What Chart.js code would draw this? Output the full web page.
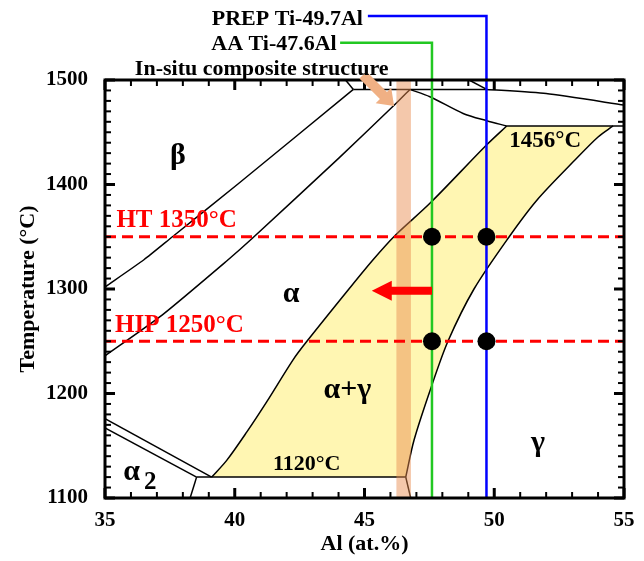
<!DOCTYPE html>
<html>
<head>
<meta charset="utf-8">
<script src="https://cdn.jsdelivr.net/npm/chart.js@4/dist/chart.umd.min.js"></script>
<style>
  html, body { margin: 0; padding: 0; background: #fff; }
  #wrap { width: 644px; height: 561px; position: relative; }
</style>
</head>
<body>
<div id="wrap"><canvas id="c"></canvas></div>
<script>
// Ti-Al phase diagram section: Al 35-55 at.%, 1100-1500 °C
const xTicks = [35, 40, 45, 50, 55];
const yTicks = [1100, 1200, 1300, 1400, 1500];
const xMinorStep = 1;
const yMinorStep = 10;

// alloy compositions (at.% Al) and treatment temperatures (°C)
const aaAl = 47.6;
const prepAl = 49.7;
const htTemp = 1350;
const hipTemp = 1250;

// phase boundaries, [Al at.%, T °C]
const betaBoundary      = [[35, 1302], [36.5, 1328], [37.6, 1350], [40.1, 1400], [44.57, 1491]];
const alphaBetaBoundary = [[35, 1236], [37.2, 1275], [39.7, 1327], [40.7, 1349], [44.0, 1425], [46.15, 1476], [46.75, 1491]];
const peritecticLine    = [[44.57, 1491], [49.71, 1491]];
const liquidusLine      = [[49.71, 1491], [52.0, 1487], [55, 1476]];
const topStubLeft       = [[44.27, 1500], [44.57, 1491]];
const topStubRight      = [[49.03, 1500], [49.71, 1491]];
const alphaSolvus       = [[46.75, 1491], [47.52, 1484], [48.8, 1468], [49.71, 1461], [50.48, 1456]];
const line1456          = [[50.48, 1456], [55, 1456]];
const a2Upper           = [[35, 1176], [39.11, 1120]];
const a2Lower           = [[35, 1167], [38.53, 1120]];
const a2Foot            = [[38.53, 1120], [38.28, 1100]];
const line1120          = [[38.53, 1120], [46.59, 1120]];
const gammaFoot         = [[46.59, 1120], [46.78, 1100]];

// α+γ two-phase field
const agLeft  = [[39.11, 1120], [39.69, 1136], [40.46, 1163], [41.23, 1192], [42.24, 1232], [42.75, 1249],
                 [44.4, 1300], [45.33, 1328], [46.17, 1351], [47.52, 1382], [49.71, 1438], [50.48, 1456]];
const agRight = [[54.58, 1456], [54.0, 1445.5], [53.11, 1423.4], [51.65, 1385.2], [50.57, 1349.8],
                 [49.22, 1300], [48.22, 1250.2], [47.56, 1205.3], [46.91, 1155.5], [46.59, 1120]];

// in-situ composite composition band
const bandAl = [46.23, 46.79];

// leader lines to the alloy labels
const aaLeaderT = 1535.7, aaLeaderEnd = 44.06;
const prepLeaderT = 1561.2, prepLeaderEnd = 45.13;

const pts = arr => arr.map(([x, y]) => ({x, y}));

const SERIF = '"Liberation Serif", "Times New Roman", serif';
const BLACK = '#000';
const RED = '#ff0000';
const GREEN = '#22c822';
const BLUE = '#0000ff';
const PEACH = '#f0b084';

function phaseLine(data, tension) {
  return { data: pts(data), showLine: true, borderColor: BLACK, borderWidth: 1.5,
           pointRadius: 0, tension: tension || 0, fill: false, order: 90 };
}

const datasets = [
  // α+γ field (fill only; its edges are drawn as separate curves)
  { data: pts(agLeft.concat(agRight)), showLine: true, fill: 'shape',
    backgroundColor: 'rgb(255,246,178)', borderColor: 'rgba(0,0,0,0)', borderWidth: 0,
    pointRadius: 0, tension: 0, order: 100 },
  phaseLine(agLeft, 0.3),
  phaseLine(agRight, 0.3),
  phaseLine(betaBoundary, 0.2),
  phaseLine(alphaBetaBoundary, 0.2),
  phaseLine(peritecticLine),
  phaseLine(liquidusLine, 0.2),
  phaseLine(topStubLeft),
  phaseLine(topStubRight),
  phaseLine(alphaSolvus, 0.3),
  phaseLine(line1456),
  phaseLine(a2Upper),
  phaseLine(a2Lower),
  phaseLine(a2Foot),
  phaseLine(line1120),
  phaseLine(gammaFoot),
  // composite band
  { data: pts([[bandAl[0], 1100], [bandAl[1], 1100], [bandAl[1], 1500], [bandAl[0], 1500]]),
    showLine: true, fill: 'shape', backgroundColor: 'rgba(232,140,80,0.48)',
    borderWidth: 0, borderColor: 'rgba(0,0,0,0)', pointRadius: 0, tension: 0, order: 80 },
  // treatment temperatures
  { data: pts([[35, htTemp], [55, htTemp]]), showLine: true, borderColor: RED, borderWidth: 3,
    borderDash: [11, 6], pointRadius: 0, order: 70 },
  { data: pts([[35, hipTemp], [55, hipTemp]]), showLine: true, borderColor: RED, borderWidth: 3,
    borderDash: [11, 6], pointRadius: 0, order: 70 },
  // alloy composition lines with leaders to labels
  { data: pts([[aaAl, 1100], [aaAl, aaLeaderT], [aaLeaderEnd, aaLeaderT]]), showLine: true,
    borderColor: GREEN, borderWidth: 2.5, pointRadius: 0, clip: false, order: 60 },
  { data: pts([[prepAl, 1100], [prepAl, prepLeaderT], [prepLeaderEnd, prepLeaderT]]), showLine: true,
    borderColor: BLUE, borderWidth: 2.5, pointRadius: 0, clip: false, order: 60 },
  // heat-treatment states
  { data: pts([[aaAl, htTemp], [prepAl, htTemp], [aaAl, hipTemp], [prepAl, hipTemp]]), showLine: false,
    pointRadius: 9, pointBackgroundColor: BLACK, pointBorderColor: BLACK, pointBorderWidth: 0, order: 50 }
];

// text annotations: [text, Al, T, font, colour, align]
const labels = [
  ['PREP Ti-49.7Al', 44.94, 1552.6, 'bold 22px', BLACK, 'right'],
  ['AA Ti-47.6Al', 43.93, 1528.7, 'bold 22px', BLACK, 'right'],
  ['In-situ composite structure', 41.04, 1504.8, 'bold 22px', BLACK, 'center'],
  ['β', 37.81, 1419.6, 'bold 30px', BLACK, 'center'],
  ['α', 42.17, 1287.6, 'bold 30px', BLACK, 'center'],
  ['α+γ', 44.34, 1195.7, 'bold 30px', BLACK, 'center'],
  ['γ', 51.69, 1144.8, 'bold 30px', BLACK, 'center'],
  ['α', 35.7, 1117.2, 'bold 30px', BLACK, 'left'],
  ['2', 36.5, 1108.5, 'bold 25px', BLACK, 'left'],
  ['1120°C', 42.77, 1126.8, 'bold 22px', BLACK, 'center'],
  ['1456°C', 51.96, 1436.2, 'bold 23px', BLACK, 'center'],
  ['HT 1350°C', 35.44, 1359.6, 'bold 25px', RED, 'left'],
  ['HIP 1250°C', 35.39, 1259.1, 'bold 25px', RED, 'left']
];

// arrows: [fromAl, fromT, toAl, toT, shaft width, head length, head width, colour]
const arrows = [
  [44.94, 1504.8, 46.14, 1475.1, 10, 15, 22, PEACH],
  [aaAl, 1298.4, 45.28, 1298.4, 8, 20, 20, RED]
];

// closed frame with inward tick marks on all four sides
function drawFrame(chart) {
  const ctx = chart.ctx;
  const a = chart.chartArea;
  const xs = chart.scales.x, ys = chart.scales.y;
  ctx.save();
  ctx.fillStyle = BLACK;
  const nx = Math.round((xTicks[xTicks.length - 1] - xTicks[0]) / xMinorStep);
  for (let i = 0; i <= nx; i++) {
    const v = xTicks[0] + i * xMinorStep;
    const px = xs.getPixelForValue(v);
    const major = xTicks.indexOf(v) >= 0;
    const len = major ? 10 : 6;
    const w = major ? 3 : 2;
    ctx.fillRect(px - w / 2, a.bottom - len, w, len);
    ctx.fillRect(px - w / 2, a.top, w, len);
  }
  const ny = Math.round((yTicks[yTicks.length - 1] - yTicks[0]) / yMinorStep);
  for (let i = 0; i <= ny; i++) {
    const v = yTicks[0] + i * yMinorStep;
    const py = ys.getPixelForValue(v);
    const major = yTicks.indexOf(v) >= 0;
    const len = major ? 10 : 6;
    const w = major ? 3 : 2;
    ctx.fillRect(a.left, py - w / 2, len, w);
    ctx.fillRect(a.right - len, py - w / 2, len, w);
  }
  ctx.strokeStyle = BLACK;
  ctx.lineWidth = 3;
  ctx.strokeRect(a.left, a.top, a.right - a.left, a.bottom - a.top);
  ctx.restore();
}

function drawAnnotations(chart) {
  const ctx = chart.ctx;
  const x = chart.scales.x, y = chart.scales.y;
  ctx.save();
  for (const [x0, y0, x1, y1, w, hl, hw, col] of arrows) {
    const ax = x.getPixelForValue(x0), ay = y.getPixelForValue(y0);
    const bx = x.getPixelForValue(x1), by = y.getPixelForValue(y1);
    const ang = Math.atan2(by - ay, bx - ax);
    const len = Math.hypot(bx - ax, by - ay);
    ctx.save();
    ctx.translate(ax, ay);
    ctx.rotate(ang);
    ctx.fillStyle = col;
    ctx.beginPath();
    ctx.moveTo(0, -w / 2);
    ctx.lineTo(len - hl, -w / 2);
    ctx.lineTo(len - hl, -hw / 2);
    ctx.lineTo(len, 0);
    ctx.lineTo(len - hl, hw / 2);
    ctx.lineTo(len - hl, w / 2);
    ctx.lineTo(0, w / 2);
    ctx.closePath();
    ctx.fill();
    ctx.restore();
  }
  ctx.textBaseline = 'alphabetic';
  for (const [t, lx, ly, f, col, al] of labels) {
    ctx.font = f + ' ' + SERIF;
    ctx.fillStyle = col;
    ctx.textAlign = al;
    ctx.fillText(t, x.getPixelForValue(lx), y.getPixelForValue(ly));
  }
  ctx.restore();
}

const overlay = {
  id: 'overlay',
  afterDraw(chart) {
    drawFrame(chart);
    drawAnnotations(chart);
  }
};

const tickFont = {family: SERIF, size: 21, weight: 'bold'};
const titleFont = {family: SERIF, size: 22, weight: 'bold'};

new Chart(document.getElementById('c'), {
  type: 'scatter',
  data: { datasets },
  options: {
    responsive: true,
    maintainAspectRatio: false,
    animation: false,
    events: [],
    layout: { padding: { top: 80, right: 20, bottom: 0, left: 0 } },
    plugins: { legend: { display: false }, tooltip: { enabled: false } },
    scales: {
      x: {
        type: 'linear', min: xTicks[0], max: xTicks[xTicks.length - 1],
        grid: { display: false }, border: { display: false },
        afterBuildTicks: s => { s.ticks = xTicks.map(v => ({value: v})); },
        afterFit: s => { s.height = 63; },
        ticks: { font: tickFont, color: BLACK, padding: 2, maxRotation: 0, callback: v => String(v) },
        title: { display: true, text: 'Al (at.%)', font: titleFont, color: BLACK, padding: {top: 0, bottom: 3} }
      },
      y: {
        type: 'linear', min: yTicks[0], max: yTicks[yTicks.length - 1],
        grid: { display: false }, border: { display: false },
        afterBuildTicks: s => { s.ticks = yTicks.map(v => ({value: v})); },
        afterFit: s => { s.width = 105; },
        ticks: { font: tickFont, color: BLACK, padding: 9, callback: v => String(v) },
        title: { display: true, text: 'Temperature (°C)', font: titleFont, color: BLACK, padding: {top: 15, bottom: 0} }
      }
    }
  },
  plugins: [overlay]
});
</script>
</body>
</html>
